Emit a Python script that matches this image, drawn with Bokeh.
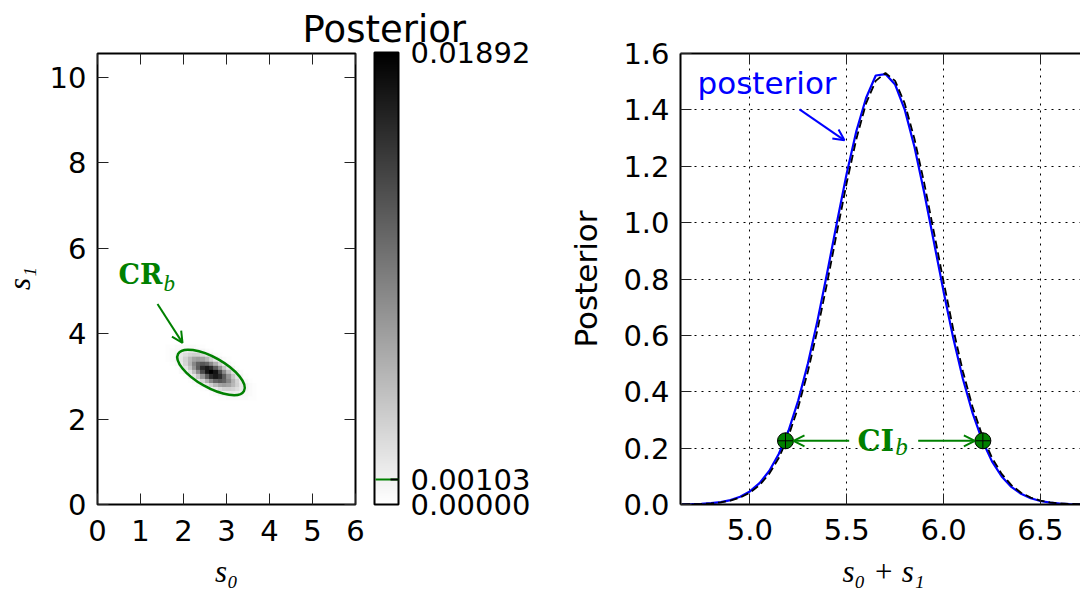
import numpy as np
from bokeh.embed import file_html
from bokeh.layouts import column, row
from bokeh.models import (AllLabels, Arrow, ColorBar, ColumnDataSource, FixedTicker, Label,
                          LinearAxis, LinearColorMapper, OpenHead, PrintfTickFormatter,
                          Range1d)
from bokeh.plotting import figure
from bokeh.resources import INLINE

# ---------------- joint posterior p(s0, s1) ----------------
s0_ticks = [0, 1, 2, 3, 4, 5, 6]
s1_ticks = [0, 2, 4, 6, 8, 10]
S0_RANGE = (0.0, 6.0)
S1_RANGE = (0.0, 10.55)

# posterior cells (0.1 x 0.1), in percent of the peak cell; rows run from low s1 to high s1
CELL = 0.1
grid_s0_start = 1.59
grid_s1_start = 2.44
posterior_pct = [
    [0, 0, 0, 0, 0, 0, 0, 0, 0, 0, 0, 0, 1, 1, 2, 2, 2, 2, 2, 1, 1],
    [0, 0, 0, 0, 0, 0, 0, 0, 0, 0, 1, 2, 4, 5, 7, 8, 7, 5, 3, 2, 1],
    [0, 0, 0, 0, 0, 0, 0, 0, 1, 2, 5, 9, 14, 18, 19, 17, 13, 9, 5, 2, 1],
    [0, 0, 0, 0, 0, 0, 1, 2, 5, 10, 18, 28, 36, 39, 36, 28, 18, 10, 5, 2, 1],
    [0, 0, 0, 0, 0, 1, 3, 8, 17, 31, 47, 61, 66, 61, 47, 30, 17, 8, 3, 1, 0],
    [0, 0, 0, 0, 1, 4, 11, 23, 42, 64, 83, 90, 83, 64, 42, 23, 11, 4, 1, 0, 0],
    [0, 0, 0, 2, 5, 12, 25, 46, 71, 92, 100, 92, 71, 46, 25, 12, 5, 2, 0, 0, 0],
    [0, 0, 1, 4, 11, 23, 42, 64, 83, 90, 83, 64, 42, 23, 11, 4, 1, 0, 0, 0, 0],
    [0, 1, 3, 8, 17, 30, 47, 61, 66, 61, 47, 31, 17, 8, 3, 1, 0, 0, 0, 0, 0],
    [1, 2, 5, 10, 18, 28, 36, 39, 36, 28, 18, 10, 5, 2, 1, 0, 0, 0, 0, 0, 0],
    [1, 2, 5, 9, 13, 17, 19, 18, 14, 9, 5, 2, 1, 0, 0, 0, 0, 0, 0, 0, 0],
    [1, 2, 3, 5, 7, 8, 7, 5, 4, 2, 1, 0, 0, 0, 0, 0, 0, 0, 0, 0, 0],
    [1, 1, 2, 2, 2, 2, 2, 1, 1, 0, 0, 0, 0, 0, 0, 0, 0, 0, 0, 0, 0],
]
POSTERIOR_PEAK = 0.01892
CR_LEVEL = 0.00103
colorbar_ticks = [0.0, CR_LEVEL, POSTERIOR_PEAK]

# credible region CR_b (ellipse: centre, full axis lengths, tilt)
cr_center = (2.64, 3.09)
cr_axes = (1.76, 0.70)
cr_tilt_deg = -29.5

# ---------------- posterior of s0 + s1 ----------------
sum_values = [4.65, 4.70, 4.75, 4.80, 4.85, 4.90, 4.95, 5.00, 5.05, 5.10, 5.15,
              5.20, 5.25, 5.30, 5.35, 5.40, 5.45, 5.50, 5.55, 5.60, 5.65, 5.70,
              5.75, 5.80, 5.85, 5.90, 5.95, 6.00, 6.05, 6.10, 6.15, 6.20, 6.25,
              6.30, 6.35, 6.40, 6.45, 6.50, 6.55, 6.60, 6.65, 6.70, 6.75]
posterior_sum = [0.0005, 0.0011, 0.0023, 0.0046, 0.0086, 0.0157, 0.0275, 0.0464,
                 0.0757, 0.1189, 0.180, 0.2626, 0.3695, 0.501, 0.655, 0.825, 1.002,
                 1.174, 1.325, 1.442, 1.522, 1.527, 1.490, 1.400, 1.268, 1.107, 0.932,
                 0.756, 0.591, 0.4455, 0.3238, 0.2268, 0.1531, 0.0997, 0.0625, 0.0378,
                 0.0221, 0.0124, 0.0067, 0.0035, 0.0018, 0.0009, 0.0004]
posterior_sum_approx = [0.0004, 0.0009, 0.0020, 0.0040, 0.0075, 0.0139, 0.0245, 0.0417,
                        0.0686, 0.1086, 0.1658, 0.2437, 0.3455, 0.4724, 0.6223, 0.7895,
                        0.967, 1.141, 1.297, 1.423, 1.503, 1.531, 1.503, 1.422, 1.297,
                        1.141, 0.967, 0.791, 0.622, 0.472, 0.3458, 0.2438, 0.1657, 0.1087,
                        0.0686, 0.0417, 0.0246, 0.0139, 0.0075, 0.0040, 0.0021, 0.0010,
                        0.0005]
ci_bounds = [5.184, 6.203]
ci_height = 0.226
sum_ticks = [5.0, 5.5, 6.0, 6.5]
post_ticks = [0.0, 0.2, 0.4, 0.6, 0.8, 1.0, 1.2, 1.4, 1.6]
SUM_RANGE = (4.642, 6.707)
POST_RANGE = (0.0, 1.6)

# ---------------- page geometry (pixels, page coordinates) ----------------
PAGE_W, PAGE_H = 1080, 590
STRIP_W = 40            # left strip carrying the s1 label
BOT_H = 36              # bottom strip carrying the s0 / s0+s1 labels
FIG_H = PAGE_H - BOT_H
L_W = 525
L_FRAME_X, L_TOP, L_FW, L_FH = 97, 52, 258, 452
R_PAGE_X = STRIP_W + L_W
R_W = PAGE_W - R_PAGE_X
R_FRAME_X, R_TOP, R_FW, R_FH = 680, 53, 400, 452
CBAR_X = 374

GREEN = "#008000"
BLUE = "#0000ff"
TICK_FONT = "DejaVu Sans"
TICK_SIZE = "29px"
MATH_FONT = "Liberation Serif"
MATH_SIZE = 31
SANS_DESCENT = 0.236
SERIF_DESCENT = 0.216


def l_x(px):
    return S0_RANGE[0] + (px - L_FRAME_X) * (S0_RANGE[1] - S0_RANGE[0]) / L_FW


def l_y(py):
    return S1_RANGE[0] + (L_TOP + L_FH - py) * (S1_RANGE[1] - S1_RANGE[0]) / L_FH


def r_dx(px):
    return px * (SUM_RANGE[1] - SUM_RANGE[0]) / R_FW


def r_dy(px):
    return px * (POST_RANGE[1] - POST_RANGE[0]) / R_FH


def r_x(px):
    return SUM_RANGE[0] + r_dx(px - R_FRAME_X)


def r_y(py):
    return POST_RANGE[0] + r_dy(R_TOP + R_FH - py)


def text_label(x, y, text, font, size, color, style="normal", align="left", angle=0.0):
    return Label(x=x, y=y, text=text, text_align=align, text_baseline="bottom",
                 text_font=font, text_font_size=f"{size}px", text_font_style=style,
                 text_color=color, angle=angle)


def style_axis(ax, ticks, show_labels=True, line=False, standoff=11):
    ax.ticker = FixedTicker(ticks=ticks)
    ax.major_tick_in = 11
    ax.major_tick_out = 0
    ax.minor_tick_in = 0
    ax.minor_tick_out = 0
    ax.major_tick_line_color = "#222222"
    ax.major_tick_line_width = 1
    if line:
        ax.axis_line_color = "black"
        ax.axis_line_width = 2
    else:
        ax.axis_line_color = None
    ax.major_label_text_font = TICK_FONT
    if show_labels:
        ax.major_label_text_color = "black"
        ax.major_label_text_font_size = TICK_SIZE
        ax.major_label_standoff = standoff
    else:
        ax.major_label_text_color = None
        ax.major_label_text_font_size = "1px"
        ax.major_label_standoff = 0


def blank_strip(width, height):
    fig = figure(width=width, height=height, x_range=Range1d(0, width), y_range=Range1d(0, height),
                 min_border_left=0, min_border_right=0, min_border_top=0, min_border_bottom=0,
                 x_axis_location=None, y_axis_location=None,
                 output_backend="svg", toolbar_location=None)
    fig.grid.visible = False
    fig.outline_line_color = None
    fig.background_fill_color = "white"
    fig.border_fill_color = "white"
    return fig


# ---------------- left panel: joint posterior ----------------
mapper = LinearColorMapper(
    palette=["#%02x%02x%02x" % (255 - i, 255 - i, 255 - i) for i in range(256)],
    low=0.0, high=POSTERIOR_PEAK)

left = figure(width=L_W, height=FIG_H, x_range=Range1d(*S0_RANGE), y_range=Range1d(*S1_RANGE),
              min_border_left=L_FRAME_X - STRIP_W, min_border_top=L_TOP,
              min_border_right=L_W - (L_FRAME_X - STRIP_W) - L_FW,
              min_border_bottom=FIG_H - L_TOP - L_FH,
              title="Posterior", output_backend="svg", toolbar_location=None)
left.title.text_font = TICK_FONT
left.title.text_font_size = "37px"
left.title.text_font_style = "normal"
left.title.text_color = "black"
left.title.align = "left"
left.title.offset = 302 - L_FRAME_X
left.title.standoff = 6
left.title.vertical_align = "bottom"

left.grid.visible = False
left.outline_line_color = "black"
left.outline_line_width = 2
left.background_fill_color = "white"
left.border_fill_color = "white"

style_axis(left.xaxis[0], s0_ticks, standoff=15)
style_axis(left.yaxis[0], s1_ticks)
top_l = LinearAxis()
style_axis(top_l, s0_ticks, show_labels=False)
left.add_layout(top_l, "above")
right_l = LinearAxis()
style_axis(right_l, s1_ticks, show_labels=False)
left.add_layout(right_l, "right")

cells = np.array(posterior_pct, dtype=float) / 100.0 * POSTERIOR_PEAK
n_rows, n_cols = cells.shape
left.image(image=[cells], x=grid_s0_start, y=grid_s1_start,
           dw=n_cols * CELL, dh=n_rows * CELL, color_mapper=mapper)

left.ellipse(x=[cr_center[0]], y=[cr_center[1]], width=[cr_axes[0]], height=[cr_axes[1]],
             angle=[np.deg2rad(cr_tilt_deg)], fill_color=None, line_color=GREEN, line_width=2.5)

left.add_layout(Arrow(x_start=l_x(157), y_start=l_y(303), x_end=l_x(182), y_end=l_y(342),
                      line_color=GREEN, line_width=2,
                      end=OpenHead(size=11, line_color=GREEN, line_width=2)))
left.add_layout(text_label(l_x(162), l_y(283 + SANS_DESCENT * 27), "CR", "DejaVu Serif", 27,
                           GREEN, style="bold", align="right"))
left.add_layout(text_label(l_x(163), l_y(290 + SERIF_DESCENT * 23), "b", MATH_FONT, 23,
                           GREEN, style="italic"))

# colour bar beside the joint posterior, with the CR_b level marked in green
cbar_common = dict(color_mapper=mapper, location=(CBAR_X - L_FRAME_X, 0), width=24, height=L_FH,
                   padding=0, margin=0, orientation="vertical",
                   background_fill_color=None, border_line_color=None,
                   minor_tick_line_color=None, major_tick_out=0)
cbar = ColorBar(ticker=FixedTicker(ticks=colorbar_ticks),
                formatter=PrintfTickFormatter(format="%.5f"),
                major_label_policy=AllLabels(),
                label_standoff=12, major_label_text_font=TICK_FONT,
                major_label_text_font_size=TICK_SIZE, major_label_text_color="black",
                major_tick_line_color=None,
                bar_line_color="black", bar_line_width=2, **cbar_common)
level_mark = ColorBar(ticker=FixedTicker(ticks=[CR_LEVEL]), scale_alpha=0.0,
                      major_label_text_color=None, major_label_text_font_size="1px",
                      major_tick_line_color=GREEN, major_tick_line_width=2, major_tick_in=23,
                      bar_line_color=None, **cbar_common)
level_tick = ColorBar(ticker=FixedTicker(ticks=[CR_LEVEL]), scale_alpha=0.0,
                      major_label_text_color=None, major_label_text_font_size="1px",
                      major_tick_line_color="black", major_tick_line_width=2, major_tick_in=8,
                      bar_line_color=None, **cbar_common)
left.add_layout(cbar)
left.add_layout(level_mark)
left.add_layout(level_tick)

# ---------------- right panel: posterior of s0 + s1 ----------------
right = figure(width=R_W, height=FIG_H, x_range=Range1d(*SUM_RANGE), y_range=Range1d(*POST_RANGE),
               min_border_left=R_FRAME_X - R_PAGE_X, min_border_top=R_TOP,
               min_border_right=R_W - (R_FRAME_X - R_PAGE_X) - R_FW,
               min_border_bottom=FIG_H - R_TOP - R_FH,
               output_backend="svg", toolbar_location=None)
right.outline_line_color = None
right.background_fill_color = "white"
right.border_fill_color = "white"

style_axis(right.xaxis[0], sum_ticks, line=True, standoff=14)
style_axis(right.yaxis[0], post_ticks, line=True)
right.xaxis[0].formatter = PrintfTickFormatter(format="%.1f")
right.yaxis[0].formatter = PrintfTickFormatter(format="%.1f")
right.yaxis[0].axis_label = "Posterior"
right.yaxis[0].axis_label_text_font = TICK_FONT
right.yaxis[0].axis_label_text_font_size = "31px"
right.yaxis[0].axis_label_text_font_style = "normal"
right.yaxis[0].axis_label_text_color = "black"
right.yaxis[0].axis_label_standoff = 16
top_r = LinearAxis()
style_axis(top_r, sum_ticks, show_labels=False, line=True)
right.add_layout(top_r, "above")

for g in (right.xgrid[0], right.ygrid[0]):
    g.grid_line_color = "black"
    g.grid_line_width = 1
    g.grid_line_dash = "2 5"
right.xgrid[0].ticker = FixedTicker(ticks=sum_ticks)
right.ygrid[0].ticker = FixedTicker(ticks=post_ticks)

src = ColumnDataSource(dict(s=sum_values, post=posterior_sum, approx=posterior_sum_approx))
right.line("s", "post", source=src, line_color=BLUE, line_width=2.2)
right.line("s", "approx", source=src, line_color="black", line_width=1.8, line_dash="8 4")

right.scatter(x=ci_bounds, y=[ci_height] * len(ci_bounds), marker="circle_cross", size=16,
              fill_color=GREEN, line_color="black", line_width=1)

ci_mid = (ci_bounds[0] + ci_bounds[1]) / 2
right.add_layout(Arrow(x_start=ci_mid - r_dx(35), y_start=ci_height,
                       x_end=ci_bounds[0] + r_dx(8), y_end=ci_height,
                       line_color=GREEN, line_width=2,
                       end=OpenHead(size=11, line_color=GREEN, line_width=2)))
right.add_layout(Arrow(x_start=ci_mid + r_dx(34), y_start=ci_height,
                       x_end=ci_bounds[1] - r_dx(8), y_end=ci_height,
                       line_color=GREEN, line_width=2,
                       end=OpenHead(size=11, line_color=GREEN, line_width=2)))
right.add_layout(text_label(ci_mid + r_dx(10), ci_height - r_dy(10 + SANS_DESCENT * 29), "CI",
                            "DejaVu Serif", 29, GREEN, style="bold", align="right"))
right.add_layout(text_label(ci_mid + r_dx(11), ci_height - r_dy(14 + SERIF_DESCENT * 25), "b",
                            MATH_FONT, 25, GREEN, style="italic"))

right.add_layout(text_label(r_x(697), r_y(93 + SANS_DESCENT * 31), "posterior", TICK_FONT, 31,
                            BLUE))
right.add_layout(Arrow(x_start=r_x(799), y_start=r_y(109), x_end=r_x(844), y_end=r_y(140),
                       line_color=BLUE, line_width=2,
                       end=OpenHead(size=11, line_color=BLUE, line_width=2)))

# ---------------- axis titles in their own strips ----------------
strip_l = blank_strip(STRIP_W, PAGE_H)
strip_l.add_layout(text_label(STRIP_W - 4, PAGE_H - (L_TOP + L_FH / 2), "s₁",
                              MATH_FONT, MATH_SIZE, "black", style="italic", align="center",
                              angle=np.pi / 2))

strip_b = blank_strip(PAGE_W - STRIP_W, BOT_H)
label_bottom = 1.5
strip_b.add_layout(text_label(L_FRAME_X + L_FW / 2 - STRIP_W, label_bottom, "s₀",
                              MATH_FONT, MATH_SIZE, "black", style="italic", align="center"))
strip_b.add_layout(text_label(883 - STRIP_W, label_bottom, "s₀ + s₁",
                              MATH_FONT, MATH_SIZE, "black", style="italic", align="center"))

page = row(strip_l, column(row(left, right, spacing=0), strip_b, spacing=0), spacing=0)
open("out.html", "w").write(file_html(page, INLINE))
